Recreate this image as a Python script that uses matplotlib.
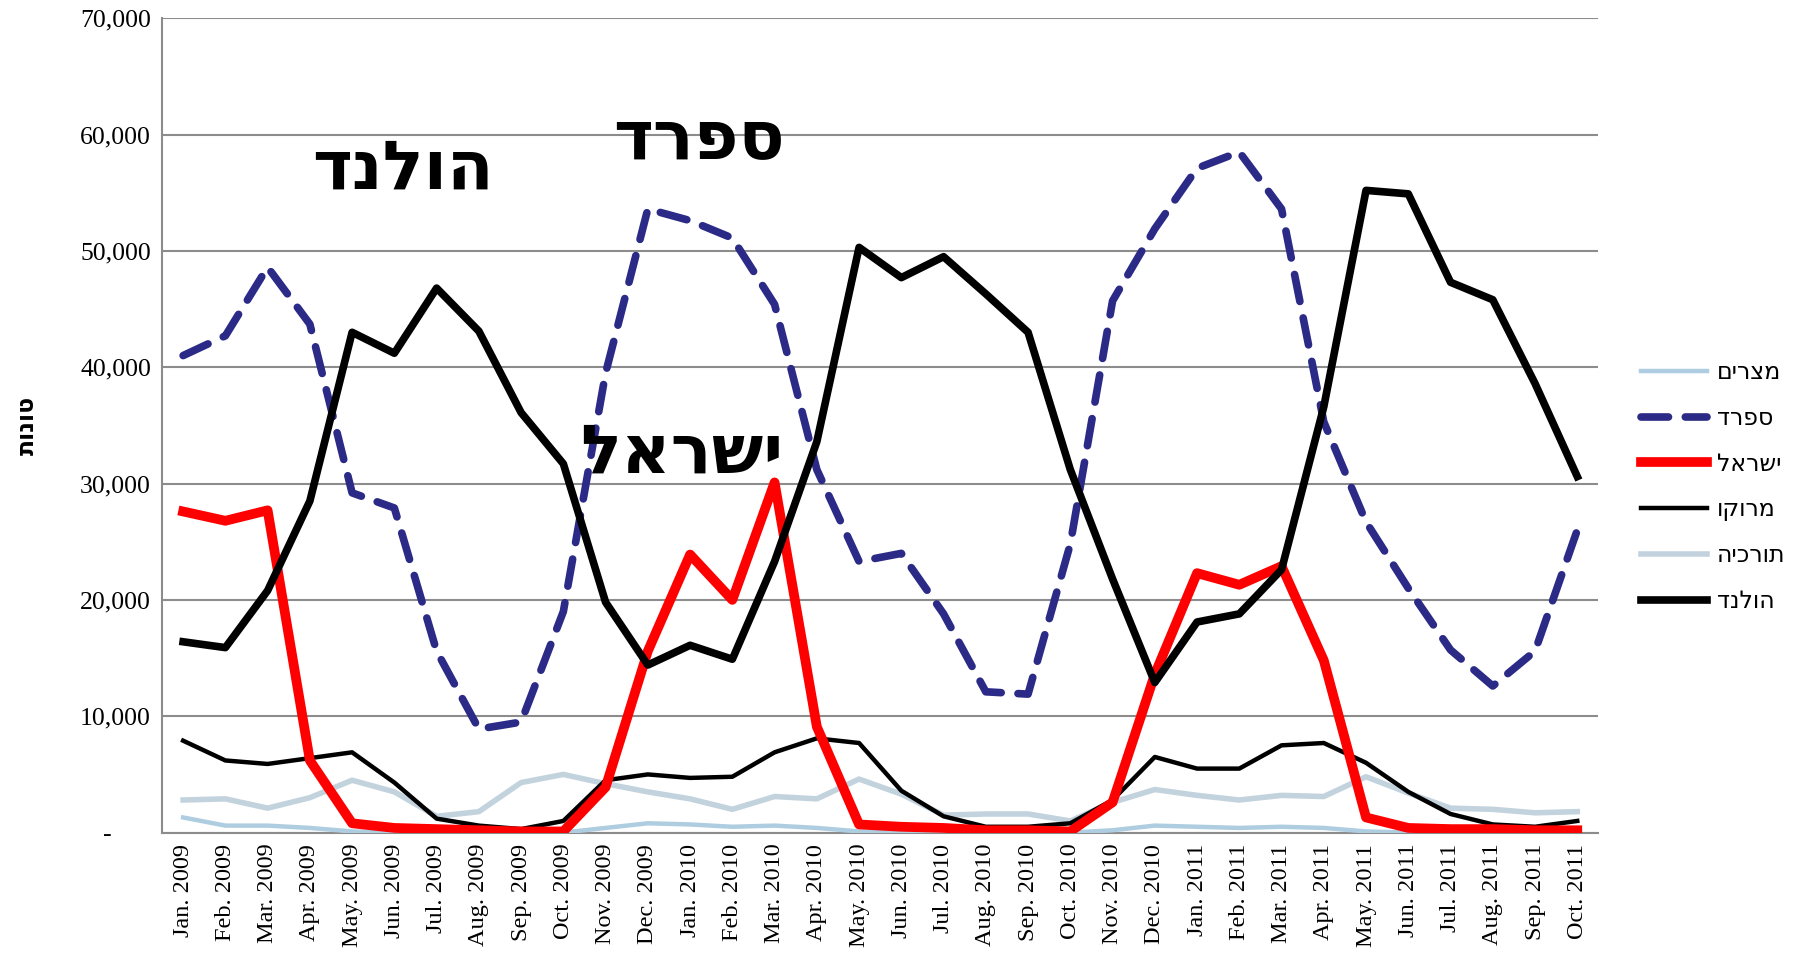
import matplotlib; matplotlib.use('Agg')
import matplotlib.pyplot as plt
from matplotlib.ticker import FuncFormatter

months = ['Jan.', 'Feb.', 'Mar.', 'Apr.', 'May.', 'Jun.', 'Jul.', 'Aug.', 'Sep.', 'Oct.', 'Nov.', 'Dec.']
labels = [f'{m} {y}' for y in (2009, 2010, 2011) for m in months][:34]

egypt = [1300, 600, 600, 400, 100, 0, 0, 0, 0, 0, 400, 800,
         700, 500, 600, 400, 100, 0, 0, 0, 0, 0, 200, 600,
         500, 400, 500, 400, 100, 0, 0, 0, 0, 0]
spain = [41000, 42700, 48600, 43700, 29200, 27900, 15600, 8900, 9500, 19000, 39500, 53600,
         52600, 51100, 45400, 31200, 23300, 24000, 18800, 12100, 11900, 24800, 45700, 51900,
         57100, 58500, 53600, 35300, 26700, 21000, 15700, 12600, 15600, 26000]
israel = [27600, 26800, 27700, 6200, 800, 400, 300, 200, 100, 100, 3900, 15600,
          23900, 20000, 30100, 9100, 700, 500, 400, 200, 200, 100, 2600, 13600,
          22300, 21300, 22900, 14800, 1300, 400, 300, 300, 200, 200]
morocco = [7900, 6200, 5900, 6400, 6900, 4300, 1200, 600, 300, 1000, 4500, 5000,
           4700, 4800, 6900, 8100, 7700, 3600, 1400, 500, 500, 800, 2800, 6500,
           5500, 5500, 7500, 7700, 6000, 3500, 1600, 700, 500, 1000]
turkey = [2800, 2900, 2100, 3000, 4500, 3500, 1400, 1800, 4300, 5000, 4200, 3500,
          2900, 2000, 3100, 2900, 4600, 3300, 1500, 1600, 1600, 1000, 2600, 3700,
          3200, 2800, 3200, 3100, 4800, 3400, 2100, 2000, 1700, 1800]
holland = [16400, 15900, 20800, 28500, 43000, 41200, 46800, 43100, 36100, 31700, 19800, 14400,
           16100, 14900, 23300, 33600, 50300, 47700, 49500, 46300, 43000, 31200, 21800, 12900,
           18100, 18800, 22600, 36600, 55200, 54900, 47300, 45800, 38600, 30600]

names = ['מצרים', 'ספרד', 'ישראל', 'מרוקו', 'תורכיה', 'הולנד']
ylabel = 'טונות'


def rtl(s):
    # matplotlib has no bidi support: reverse Hebrew for display
    return s[::-1]


fig = plt.figure(figsize=(18, 9.57), dpi=100)
ax = fig.add_axes([0.09, 0.13, 0.798, 0.851])
x = range(len(labels))

ax.plot(x, egypt, color='#aecde0', lw=3.2, zorder=3, label=rtl(names[0]))
ax.plot(x, spain, color='#2b2a86', lw=5.5, ls=(0, (3.6, 2.2)), dash_capstyle='round',
        solid_capstyle='round', zorder=4, label=rtl(names[1]))
ax.plot(x, israel, color='#ff0000', lw=7, zorder=5, label=rtl(names[2]))
ax.plot(x, morocco, color='black', lw=3.2, zorder=4, label=rtl(names[3]))
ax.plot(x, turkey, color='#c3d3de', lw=4, zorder=3, label=rtl(names[4]))
ax.plot(x, holland, color='black', lw=5.5, zorder=6, label=rtl(names[5]))

ax.set_xlim(-0.5, len(labels) - 0.5)
ax.set_ylim(0, 70000)
ax.set_yticks(range(0, 70001, 10000))
ax.yaxis.set_major_formatter(FuncFormatter(lambda v, p: '-      ' if v == 0 else f'{int(v):,}'))
ax.set_xticks(list(x))
ax.set_xticklabels(labels, rotation=90)
ax.tick_params(axis='x', labelsize=17.5, labelfontfamily='Liberation Serif')
ax.tick_params(axis='y', labelsize=18.5, labelfontfamily='Liberation Serif')
ax.tick_params(length=0, pad=8)
ax.grid(axis='y', color='#8c8c8c', lw=1.5)
ax.set_axisbelow(True)
for s in ('top', 'right'):
    ax.spines[s].set_visible(False)
for s in ('left', 'bottom'):
    ax.spines[s].set_color('#8c8c8c')
    ax.spines[s].set_linewidth(1.5)

ax.set_ylabel(rtl(ylabel), fontsize=17, fontweight='bold', family='DejaVu Sans', labelpad=30)

# big labels on the chart
big = dict(fontsize=49, fontweight='bold', family='DejaVu Sans', ha='center', va='center', zorder=7)
ax.text(5.2, 57000, rtl(names[5]), **big)
ax.text(12.2, 59600, rtl(names[1]), **big)
ax.text(11.8, 32600, rtl(names[2]), **big)

leg = ax.legend(loc='center left', bbox_to_anchor=(1.015, 0.425), frameon=False,
                prop={'family': 'DejaVu Sans', 'size': 17}, handlelength=2.8,
                labelspacing=0.92, handletextpad=0.4)

plt.savefig('out.png', dpi=100)
plt.close()
